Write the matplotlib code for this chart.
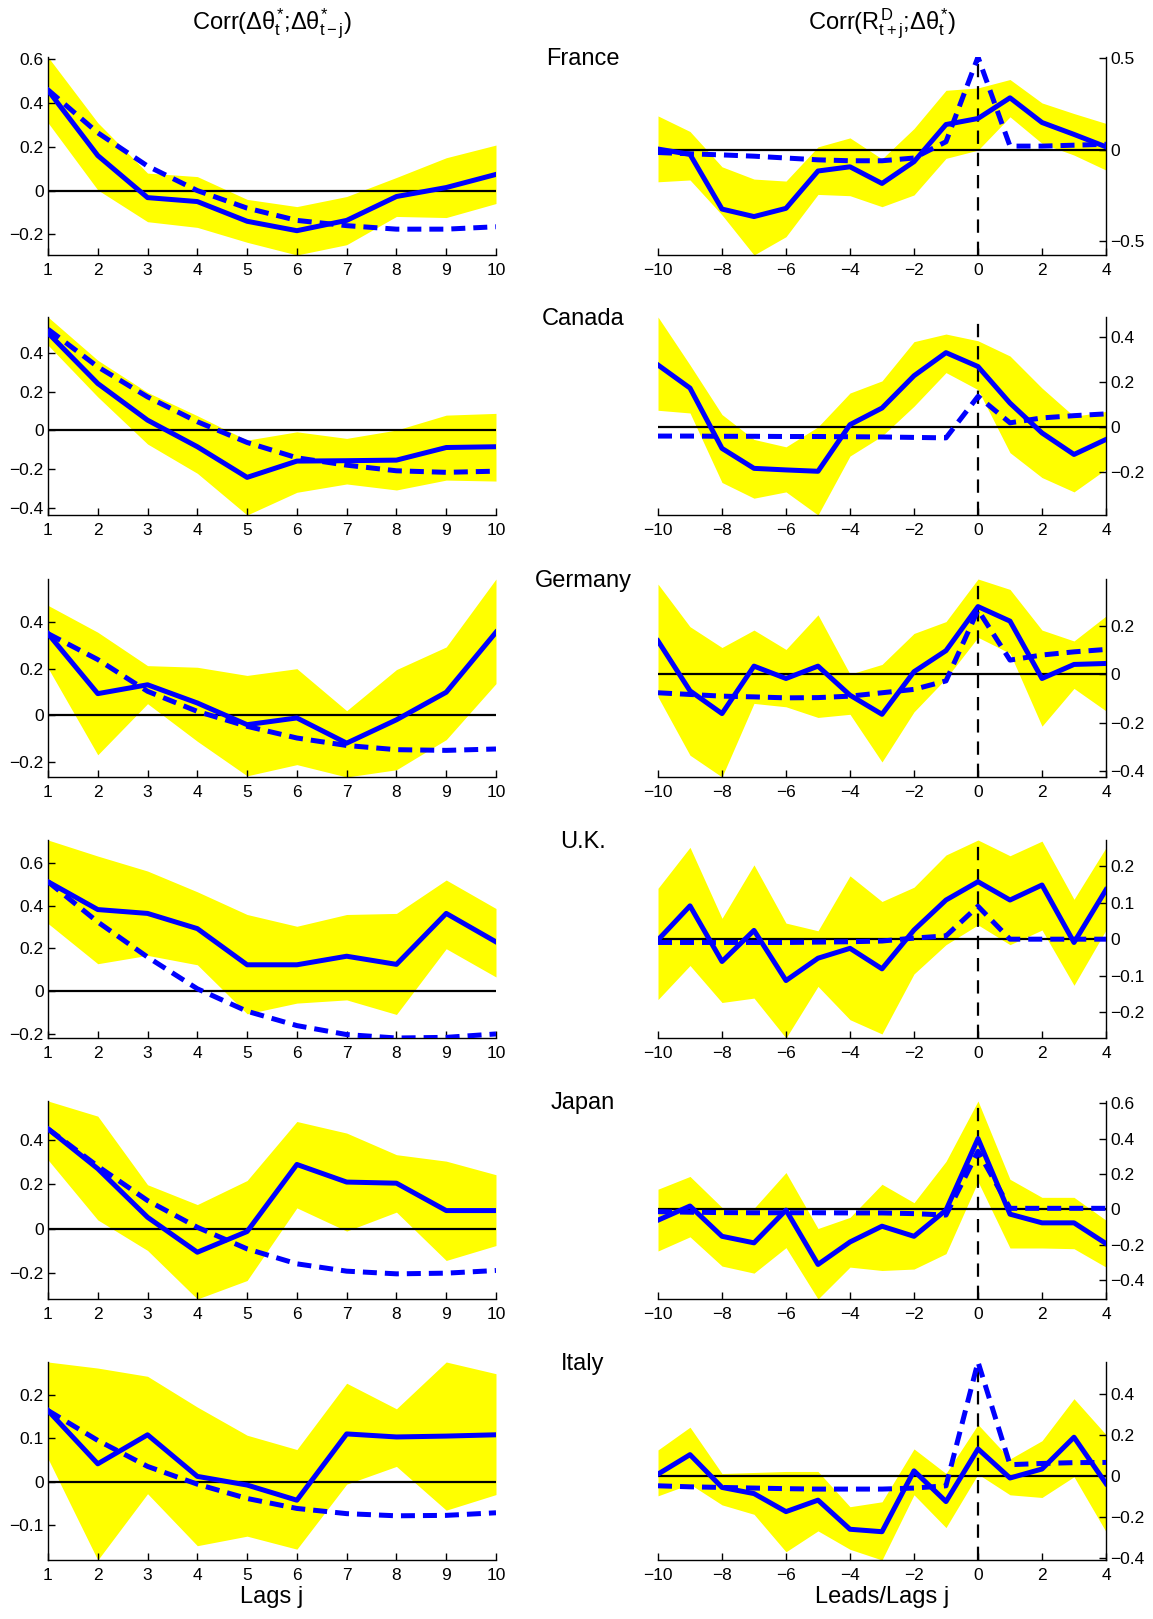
import numpy as np
import matplotlib
matplotlib.use("Agg")
import matplotlib.pyplot as plt
from matplotlib.ticker import FuncFormatter

# ---------------- data ----------------
lags = np.arange(1, 11)
leads = np.arange(-10, 5)
countries = ["France", "Canada", "Germany", "U.K.", "Japan", "Italy"]

# autocorrelation (left column): solid = data, dashed = model, band lo/hi
fr_acf_data = [0.458, 0.16, -0.032, -0.05, -0.14, -0.183, -0.136, -0.027, 0.014, 0.074]
fr_acf_model = [0.46, 0.264, 0.112, 0.0, -0.08, -0.136, -0.16, -0.176, -0.176, -0.165]
fr_acf_hi = [0.61, 0.31, 0.08, 0.064, -0.04, -0.073, -0.027, 0.06, 0.15, 0.208]
fr_acf_lo = [0.31, 0.003, -0.142, -0.168, -0.236, -0.294, -0.247, -0.118, -0.123, -0.059]

ca_acf_data = [0.503, 0.242, 0.053, -0.084, -0.242, -0.158, -0.156, -0.153, -0.088, -0.084]
ca_acf_model = [0.522, 0.328, 0.173, 0.045, -0.062, -0.141, -0.179, -0.208, -0.216, -0.21]
ca_acf_hi = [0.585, 0.362, 0.196, 0.076, -0.05, -0.007, -0.041, 0.002, 0.079, 0.088]
ca_acf_lo = [0.44, 0.173, -0.07, -0.221, -0.436, -0.319, -0.276, -0.307, -0.256, -0.261]

de_acf_data = [0.35, 0.093, 0.131, 0.053, -0.04, -0.011, -0.119, -0.019, 0.099, 0.356]
de_acf_model = [0.35, 0.239, 0.103, 0.017, -0.047, -0.097, -0.129, -0.147, -0.15, -0.144]
de_acf_hi = [0.471, 0.356, 0.213, 0.206, 0.171, 0.2, 0.02, 0.196, 0.293, 0.584]
de_acf_lo = [0.203, -0.169, 0.05, -0.111, -0.259, -0.211, -0.264, -0.233, -0.104, 0.136]

uk_acf_data = [0.511, 0.381, 0.363, 0.292, 0.123, 0.123, 0.163, 0.125, 0.363, 0.23]
uk_acf_model = [0.511, 0.323, 0.159, 0.011, -0.094, -0.161, -0.203, -0.219, -0.216, -0.2]
uk_acf_hi = [0.706, 0.631, 0.561, 0.464, 0.358, 0.303, 0.358, 0.363, 0.519, 0.386]
uk_acf_lo = [0.316, 0.128, 0.167, 0.123, -0.106, -0.056, -0.041, -0.109, 0.198, 0.066]

jp_acf_data = [0.449, 0.27, 0.052, -0.105, -0.012, 0.289, 0.21, 0.205, 0.082, 0.082]
jp_acf_model = [0.449, 0.281, 0.127, 0.007, -0.09, -0.157, -0.19, -0.202, -0.199, -0.187]
jp_acf_hi = [0.574, 0.506, 0.198, 0.109, 0.217, 0.482, 0.43, 0.333, 0.304, 0.243]
jp_acf_lo = [0.31, 0.04, -0.097, -0.315, -0.232, 0.094, -0.01, 0.075, -0.142, -0.075]

it_acf_data = [0.164, 0.041, 0.108, 0.012, -0.008, -0.043, 0.11, 0.103, 0.105, 0.108]
it_acf_model = [0.164, 0.095, 0.035, -0.006, -0.039, -0.062, -0.074, -0.079, -0.078, -0.072]
it_acf_hi = [0.276, 0.262, 0.243, 0.172, 0.107, 0.074, 0.227, 0.168, 0.276, 0.249]
it_acf_lo = [0.053, -0.181, -0.028, -0.148, -0.126, -0.156, -0.006, 0.035, -0.066, -0.03]

# cross-correlation (right column), j = -10..4
fr_ccf_data = [0.004, -0.025, -0.324, -0.365, -0.32, -0.116, -0.093, -0.184, -0.065, 0.138, 0.171, 0.284, 0.149, 0.084, 0.016]
fr_ccf_model = [-0.015, -0.022, -0.028, -0.035, -0.045, -0.055, -0.06, -0.06, -0.045, 0.044, 0.507, 0.02, 0.02, 0.025, 0.03]
fr_ccf_hi = [0.185, 0.1, -0.093, -0.16, -0.171, 0.016, 0.065, -0.05, 0.116, 0.325, 0.338, 0.384, 0.256, 0.198, 0.144]
fr_ccf_lo = [-0.175, -0.165, -0.356, -0.575, -0.475, -0.244, -0.251, -0.311, -0.247, -0.047, -0.002, 0.18, 0.035, -0.029, -0.111]

ca_ccf_data = [0.276, 0.173, -0.096, -0.185, -0.192, -0.198, 0.01, 0.084, 0.228, 0.331, 0.269, 0.106, -0.027, -0.123, -0.056]
ca_ccf_model = [-0.041, -0.041, -0.042, -0.042, -0.043, -0.043, -0.044, -0.045, -0.047, -0.049, 0.136, 0.018, 0.04, 0.05, 0.058]
ca_ccf_hi = [0.49, 0.276, 0.055, -0.056, -0.089, 0.0, 0.151, 0.205, 0.38, 0.414, 0.384, 0.316, 0.173, 0.047, 0.069]
ca_ccf_lo = [0.074, 0.062, -0.248, -0.318, -0.29, -0.393, -0.13, -0.041, 0.092, 0.242, 0.166, -0.115, -0.226, -0.29, -0.189]

de_ccf_data = [0.137, -0.069, -0.163, 0.033, -0.018, 0.033, -0.087, -0.166, 0.01, 0.097, 0.279, 0.219, -0.018, 0.04, 0.044]
de_ccf_model = [-0.077, -0.084, -0.091, -0.094, -0.098, -0.097, -0.091, -0.077, -0.063, -0.028, 0.265, 0.058, 0.079, 0.092, 0.102]
de_ccf_hi = [0.372, 0.196, 0.11, 0.182, 0.102, 0.245, 0.0, 0.04, 0.168, 0.217, 0.393, 0.35, 0.182, 0.137, 0.24]
de_ccf_lo = [-0.094, -0.335, -0.425, -0.121, -0.135, -0.179, -0.166, -0.363, -0.156, -0.018, 0.152, 0.086, -0.215, -0.059, -0.152]

uk_ccf_data = [-0.002, 0.091, -0.061, 0.024, -0.113, -0.052, -0.025, -0.081, 0.025, 0.107, 0.157, 0.107, 0.148, -0.009, 0.135]
uk_ccf_model = [-0.009, -0.009, -0.009, -0.009, -0.009, -0.008, -0.007, -0.005, 0.003, 0.009, 0.09, 0.0, 0.0, 0.0, 0.0]
uk_ccf_hi = [0.139, 0.251, 0.057, 0.203, 0.044, 0.023, 0.173, 0.103, 0.142, 0.23, 0.271, 0.228, 0.268, 0.109, 0.25]
uk_ccf_lo = [-0.165, -0.072, -0.173, -0.161, -0.27, -0.129, -0.22, -0.259, -0.095, -0.015, 0.039, -0.015, 0.025, -0.126, 0.025]

jp_ccf_data = [-0.061, 0.019, -0.152, -0.189, -0.004, -0.311, -0.184, -0.095, -0.152, -0.004, 0.4, -0.027, -0.076, -0.076, -0.193]
jp_ccf_model = [-0.013, -0.016, -0.018, -0.019, -0.019, -0.019, -0.02, -0.02, -0.024, -0.032, 0.328, 0.006, 0.006, 0.006, 0.006]
jp_ccf_hi = [0.114, 0.186, 0.011, 0.006, 0.208, -0.108, -0.045, 0.142, 0.038, 0.271, 0.612, 0.17, 0.068, 0.068, -0.061]
jp_ccf_lo = [-0.235, -0.155, -0.32, -0.36, -0.216, -0.506, -0.326, -0.345, -0.337, -0.25, 0.157, -0.218, -0.218, -0.222, -0.326]

it_ccf_data = [0.008, 0.103, -0.057, -0.087, -0.175, -0.119, -0.261, -0.273, 0.024, -0.126, 0.131, -0.011, 0.033, 0.188, -0.038]
it_ccf_model = [-0.049, -0.054, -0.057, -0.06, -0.063, -0.065, -0.065, -0.065, -0.06, -0.049, 0.555, 0.054, 0.06, 0.064, 0.065]
it_ccf_hi = [0.126, 0.237, 0.011, 0.016, 0.021, 0.021, -0.151, -0.127, 0.131, 0.011, 0.25, 0.082, 0.171, 0.376, 0.201]
it_ccf_lo = [-0.098, -0.041, -0.142, -0.188, -0.371, -0.269, -0.359, -0.411, -0.093, -0.253, 0.008, -0.093, -0.106, -0.005, -0.273]

# y tick values per panel
acf_yticks = [[-0.2, 0, 0.2, 0.4, 0.6], [-0.4, -0.2, 0, 0.2, 0.4], [-0.2, 0, 0.2, 0.4],
              [-0.2, 0, 0.2, 0.4, 0.6], [-0.2, 0, 0.2, 0.4], [-0.1, 0, 0.1, 0.2]]
ccf_yticks = [[-0.5, 0, 0.5], [-0.2, 0, 0.2, 0.4], [-0.4, -0.2, 0, 0.2],
              [-0.2, -0.1, 0, 0.1, 0.2], [-0.4, -0.2, 0, 0.2, 0.4, 0.6], [-0.4, -0.2, 0, 0.2, 0.4]]

acf_sets = [
    (fr_acf_data, fr_acf_model, fr_acf_lo, fr_acf_hi),
    (ca_acf_data, ca_acf_model, ca_acf_lo, ca_acf_hi),
    (de_acf_data, de_acf_model, de_acf_lo, de_acf_hi),
    (uk_acf_data, uk_acf_model, uk_acf_lo, uk_acf_hi),
    (jp_acf_data, jp_acf_model, jp_acf_lo, jp_acf_hi),
    (it_acf_data, it_acf_model, it_acf_lo, it_acf_hi),
]
ccf_sets = [
    (fr_ccf_data, fr_ccf_model, fr_ccf_lo, fr_ccf_hi),
    (ca_ccf_data, ca_ccf_model, ca_ccf_lo, ca_ccf_hi),
    (de_ccf_data, de_ccf_model, de_ccf_lo, de_ccf_hi),
    (uk_ccf_data, uk_ccf_model, uk_ccf_lo, uk_ccf_hi),
    (jp_ccf_data, jp_ccf_model, jp_ccf_lo, jp_ccf_hi),
    (it_ccf_data, it_ccf_model, it_ccf_lo, it_ccf_hi),
]

# ---------------- style ----------------
plt.rcParams['font.family'] = ['Liberation Sans', 'DejaVu Sans']
plt.rcParams['mathtext.fontset'] = 'custom'
plt.rcParams['mathtext.rm'] = 'Liberation Sans'
plt.rcParams['mathtext.it'] = 'Liberation Sans'
plt.rcParams['mathtext.bf'] = 'Liberation Sans:bold'
plt.rcParams['font.size'] = 12

W, H = 1153, 1619
fig = plt.figure(figsize=(W / 100, H / 100), dpi=100)

row_tops = [57, 317, 579, 840, 1101, 1362]
ax_h = 198
left_x, right_x, ax_w = 48, 658, 448

fmt = FuncFormatter(lambda v, _: ('%g' % round(v, 3)).replace('-', '\u2212'))


def style_axis(ax, side):
    for s in ['top', 'left', 'right']:
        ax.spines[s].set_visible(False)
    ax.spines[side].set_visible(True)
    for s in ax.spines.values():
        s.set_linewidth(1.0)
    if side == 'right':
        ax.yaxis.tick_right()
    ax.tick_params(direction='in', length=5, width=1.0, labelsize=12.5, pad=3)
    ax.tick_params(axis='x', top=False, pad=6)
    ax.yaxis.set_major_formatter(fmt)
    ax.xaxis.set_major_formatter(fmt)


def draw(ax, x, series, vline):
    data, model, lo, hi = series
    ax.fill_between(x, lo, hi, color='#ffff00', linewidth=0, zorder=1)
    ax.axhline(0, color='black', lw=1.6, zorder=2)
    if vline:
        ax.axvline(0, color='black', lw=1.6, dashes=(6, 4), zorder=2)
    ax.plot(x, model, color='#0000ff', lw=3.6, dashes=(2.8, 1.6), zorder=3)
    ax.plot(x, data, color='#0000ff', lw=3.6, zorder=4)
    # tight y-range, as in the original
    lows = min(min(lo), min(data), min(model))
    highs = max(max(hi), max(data), max(model))
    ax.set_ylim(lows, highs)
    ax.set_xlim(x[0], x[-1])


for i, top in enumerate(row_tops):
    b = 1 - (top + ax_h) / H
    axl = fig.add_axes([left_x / W, b, ax_w / W, ax_h / H])
    draw(axl, lags, acf_sets[i], False)
    style_axis(axl, 'left')
    axl.set_xticks(lags)
    axl.set_yticks(acf_yticks[i])

    axr = fig.add_axes([right_x / W, b, ax_w / W, ax_h / H])
    draw(axr, leads, ccf_sets[i], True)
    style_axis(axr, 'right')
    axr.set_xticks(np.arange(-10, 5, 2))
    axr.set_yticks(ccf_yticks[i])

    fig.text(583 / W, 1 - (top + 2) / H, countries[i], ha='center', va='center', fontsize=17)

    if i == len(row_tops) - 1:
        axl.set_xlabel('Lags j', fontsize=17, labelpad=2)
        axr.set_xlabel('Leads/Lags j', fontsize=17, labelpad=2)

fig.text(272 / W, 1 - 24 / H, r'Corr($\Delta\theta^{*}_{t}$;$\Delta\theta^{*}_{t-j}$)',
         ha='center', va='center', fontsize=17)
fig.text(882 / W, 1 - 24 / H, r'Corr($R^{D}_{t+j}$;$\Delta\theta^{*}_{t}$)',
         ha='center', va='center', fontsize=17)

fig.savefig('out.png', dpi=100)
